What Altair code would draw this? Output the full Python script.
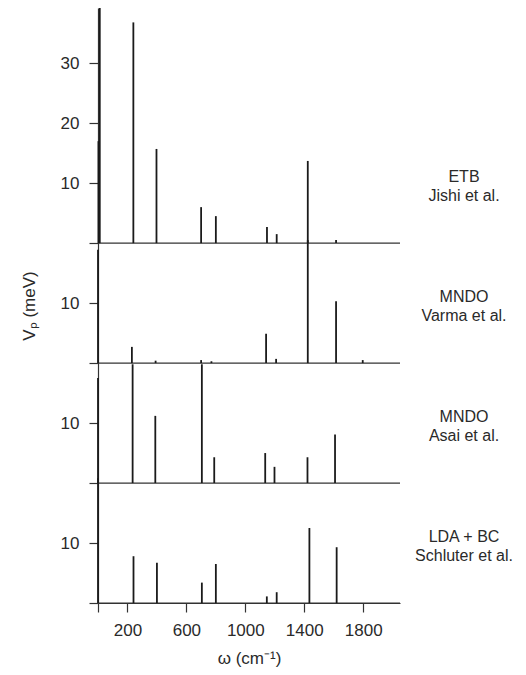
import altair as alt
import pandas as pd

# Panel labels (top to bottom) and the vertical offset of each panel's baseline (meV)
panels = ["ETB\nJishi et al.", "MNDO\nVarma et al.", "MNDO\nAsai et al.", "LDA + BC\nSchluter et al."]
panel_base = [60, 40, 20, 0]

# Frequencies (cm^-1) and coupling strengths V_p (meV) per panel
etb_w = [3, 12, 240, 397, 700, 800, 1147, 1213, 1424, 1616]
etb_v = [17.0, 40.0, 36.8, 15.7, 6.0, 4.5, 2.7, 1.5, 13.7, 0.5]

varma_w = [0, 230, 391, 700, 770, 1141, 1209, 1424, 1616, 1797]
varma_v = [18.9, 2.7, 0.4, 0.5, 0.3, 4.9, 0.7, 20.5, 10.3, 0.5]

asai_w = [0, 235, 389, 705, 789, 1135, 1198, 1422, 1609]
asai_v = [17.5, 19.8, 11.2, 19.8, 4.3, 5.0, 2.7, 4.3, 8.1]

schl_w = [0, 241, 400, 705, 800, 1146, 1213, 1435, 1620]
schl_v = [20.8, 7.8, 6.7, 3.4, 6.5, 1.1, 1.8, 12.5, 9.3]

x_ticks = [0, 200, 600, 1000, 1400, 1800]
y_ticks = [0, 10, 20, 30, 40, 50, 60, 70, 80, 90]

rows = []
for name, base, ws, vs in zip(panels, panel_base,
                              [etb_w, varma_w, asai_w, schl_w],
                              [etb_v, varma_v, asai_v, schl_v]):
    for w, v in zip(ws, vs):
        rows.append({"panel": name, "omega": w, "vp": v, "base": base})
df = pd.DataFrame(rows)
base_df = pd.DataFrame({"panel": panels, "base": panel_base})

FONT = "Liberation Sans"
xscale = alt.Scale(domain=[0, 2050], nice=False, zero=False)
yscale = alt.Scale(domain=[0, 99.2], nice=False, zero=False)

spikes = alt.Chart(df).transform_calculate(
    top="datum.base + datum.vp"
).mark_rule(color="#1a1a1a", strokeWidth=1.8).encode(
    x=alt.X("omega:Q", scale=xscale, axis=alt.Axis(
        values=x_ticks, title="ω (cm⁻¹)", format="d",
        labelExpr="datum.value == 0 ? '' : datum.label",
        tickSize=9, labelPadding=10, titlePadding=12,
    )),
    y=alt.Y("top:Q", scale=yscale, axis=alt.Axis(
        values=y_ticks, title="Vₚ (meV)",
        labelExpr="(datum.value % 20 == 0 && datum.value < 80) ? '' : (datum.value >= 60 ? format(datum.value - 60, 'd') : format(datum.value % 20, 'd'))",
        tickSize=9, labelPadding=10, titlePadding=22,
    )),
    y2="base:Q",
)

baselines = alt.Chart(base_df).mark_rule(color="#333333", strokeWidth=1.2).encode(
    x=alt.datum(0),
    x2=alt.datum(2050),
    y=alt.Y("base:Q", scale=yscale),
)

labels = alt.Chart(base_df).mark_text(
    lineBreak="\n", dy=-66, fontSize=16, font=FONT, lineHeight=19,
    align="center", baseline="middle", color="#2a2a2a",
).encode(
    x=alt.value(366),
    y=alt.Y("base:Q", scale=yscale),
    text="panel:N",
)

chart = alt.layer(baselines, spikes, labels).properties(
    width=302,
    height=595,
    autosize=alt.AutoSizeParams(type="none"),
    padding={"left": 90, "top": 0, "right": 118, "bottom": 64},
).configure_view(stroke=None).configure_axis(
    grid=False,
    domainColor="#333333",
    tickColor="#333333",
    domainWidth=1.2,
    tickWidth=1.2,
    labelFont=FONT,
    labelFontSize=17,
    labelColor="#2a2a2a",
    titleFont=FONT,
    titleFontSize=17,
    titleFontWeight="normal",
    titleColor="#2a2a2a",
)

chart.save("out.html", embed_options={"renderer": "svg", "actions": False})
